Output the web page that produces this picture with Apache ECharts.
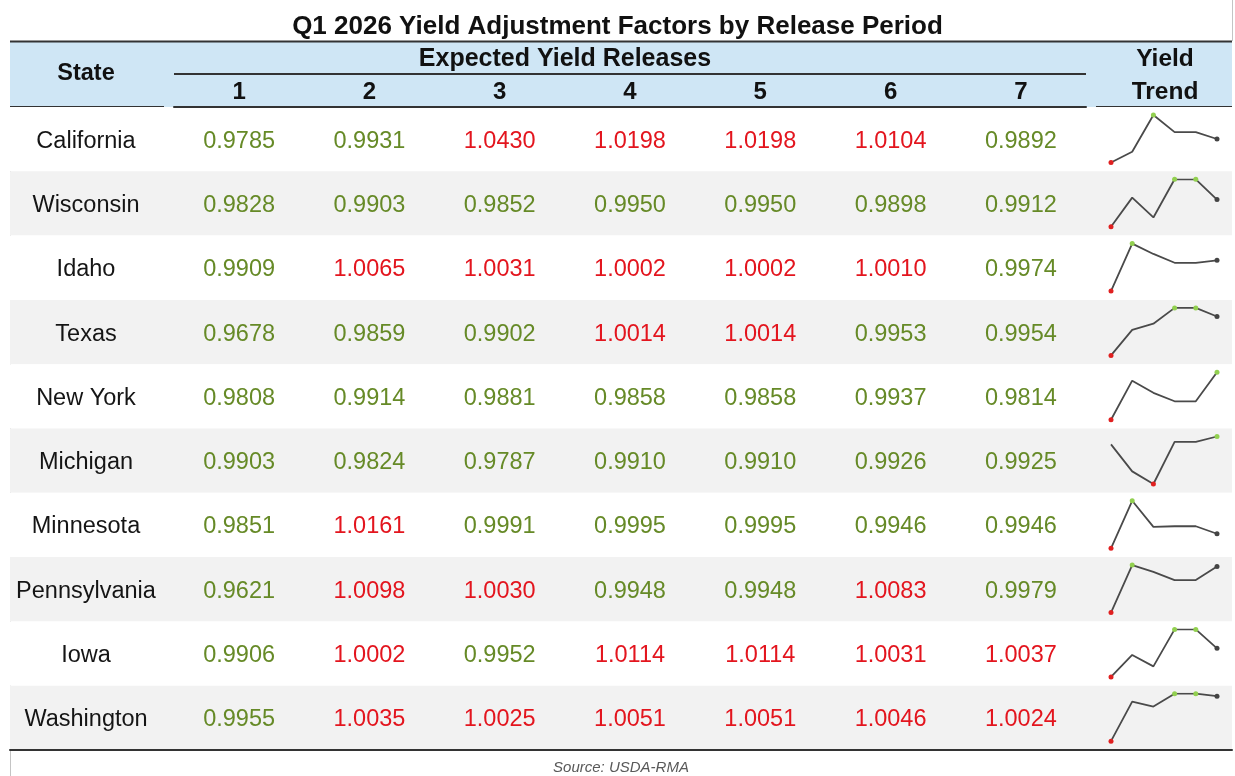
<!DOCTYPE html>
<html>
<head>
    <meta charset="utf-8">
    <title>Yield Adjustment Factors</title>
    <script src="https://cdn.jsdelivr.net/npm/echarts@6/dist/echarts.min.js"></script>
    <style>
        body { margin: 0; background: #fff; }
    </style>
</head>
<body>
    <div id="main" style="width: 1235px;height:776px;"></div>
    <script type="text/javascript">
        // table data
        var states = ['California', 'Wisconsin', 'Idaho', 'Texas', 'New York', 'Michigan',
                      'Minnesota', 'Pennsylvania', 'Iowa', 'Washington'];
        var releases = ['1', '2', '3', '4', '5', '6', '7'];
        var california   = [0.9785, 0.9931, 1.0430, 1.0198, 1.0198, 1.0104, 0.9892];
        var wisconsin    = [0.9828, 0.9903, 0.9852, 0.9950, 0.9950, 0.9898, 0.9912];
        var idaho        = [0.9909, 1.0065, 1.0031, 1.0002, 1.0002, 1.0010, 0.9974];
        var texas        = [0.9678, 0.9859, 0.9902, 1.0014, 1.0014, 0.9953, 0.9954];
        var newYork      = [0.9808, 0.9914, 0.9881, 0.9858, 0.9858, 0.9937, 0.9814];
        var michigan     = [0.9903, 0.9824, 0.9787, 0.9910, 0.9910, 0.9926, 0.9925];
        var minnesota    = [0.9851, 1.0161, 0.9991, 0.9995, 0.9995, 0.9946, 0.9946];
        var pennsylvania = [0.9621, 1.0098, 1.0030, 0.9948, 0.9948, 1.0083, 0.9979];
        var iowa         = [0.9906, 1.0002, 0.9952, 1.0114, 1.0114, 1.0031, 1.0037];
        var washington   = [0.9955, 1.0035, 1.0025, 1.0051, 1.0051, 1.0046, 1.0024];
        var rows = [california, wisconsin, idaho, texas, newYork, michigan,
                    minnesota, pennsylvania, iowa, washington];
        // the trend sparkline uses releases 1-6
        var trendCount = 6;

        var RED = '#e3151e', GREEN = '#668a27';
        var FONT = 'Liberation Sans, Arial';
        var TOP = 107, ROW_H = 64.3, BOTTOM = 750;
        var STATE_COL = (86 - 10) / 1222;   // state column centre on the background grid

        var myChart = echarts.init(document.getElementById('main'));

        // value cells
        var cells = [];
        rows.forEach(function (vals, r) {
            vals.forEach(function (v, c) {
                cells.push({
                    value: [c, r, v],
                    label: { color: v > 1 ? RED : GREEN }
                });
            });
        });

        var grids = [
            { left: 10, top: TOP, width: 1222, height: BOTTOM - TOP },
            { left: 174, top: TOP, width: 912, height: BOTTOM - TOP }
        ];
        var xAxes = [
            {
                gridIndex: 0, type: 'value', min: 0, max: 1,
                axisLine: { show: true, lineStyle: { color: '#333', width: 2 } },
                axisTick: { show: false }, axisLabel: { show: false }, splitLine: { show: false }
            },
            {
                gridIndex: 1, type: 'category', data: releases, position: 'top',
                axisLine: { show: true, lineStyle: { color: '#333', width: 2 } },
                axisTick: { show: false },
                axisLabel: { margin: 3, fontSize: 24, fontWeight: 'bold', color: '#111',
                             fontFamily: FONT }
            }
        ];
        var yAxes = [
            {
                gridIndex: 0, type: 'category', data: states, inverse: true,
                axisLine: { show: false }, axisTick: { show: false }, axisLabel: { show: false },
                splitArea: { show: true, areaStyle: { color: ['#ffffff', '#f2f2f2'] } }
            },
            {
                gridIndex: 1, type: 'category', data: states, inverse: true,
                axisLine: { show: false }, axisTick: { show: false }, axisLabel: { show: false }
            }
        ];
        var hidden = { color: 'rgba(0,0,0,0)', opacity: 1 };
        var series = [{
            type: 'scatter',
            xAxisIndex: 1, yAxisIndex: 1,
            symbolSize: 1,
            itemStyle: hidden,
            label: {
                show: true, position: 'inside', fontSize: 23.5, offset: [0, 2],
                fontFamily: FONT,
                formatter: function (p) { return p.value[2].toFixed(4); }
            },
            data: cells,
            silent: true
        }, {
            // state names
            type: 'scatter',
            xAxisIndex: 0, yAxisIndex: 0,
            symbolSize: 1,
            itemStyle: hidden,
            label: {
                show: true, position: 'inside', fontSize: 23.5, offset: [0, 2],
                fontFamily: FONT, color: '#151515',
                formatter: function (p) { return p.value[1]; }
            },
            data: states.map(function (s) { return [STATE_COL, s]; }),
            silent: true
        }];

        // sparklines, one small grid per state
        rows.forEach(function (vals, r) {
            var pts = vals.slice(0, trendCount);
            var hi = Math.max.apply(null, pts), lo = Math.min.apply(null, pts);
            var gi = grids.length;
            grids.push({ left: 1111, width: 106, top: TOP + r * ROW_H + 8, height: 47.5 });
            xAxes.push({ gridIndex: gi, type: 'category', data: releases.slice(0, trendCount),
                         boundaryGap: false, show: false });
            yAxes.push({ gridIndex: gi, type: 'value', min: 'dataMin', max: 'dataMax',
                         scale: true, show: false });
            series.push({
                type: 'line', xAxisIndex: gi, yAxisIndex: gi,
                lineStyle: { color: '#4a4a4a', width: 1.8 },
                symbol: 'circle', symbolSize: 5, showSymbol: true,
                animation: false,
                data: pts.map(function (v, i) {
                    var col = null;
                    if (v === hi) col = '#92d050';
                    else if (v === lo) col = '#e02020';
                    else if (i === pts.length - 1) col = '#444';
                    if (!col) return { value: v, symbol: 'none' };
                    return { value: v, itemStyle: { color: col, borderWidth: 0 } };
                })
            });
        });

        function hline(x1, x2, y, w, c) {
            return { type: 'line', shape: { x1: x1, y1: y, x2: x2, y2: y },
                     style: { stroke: c || '#333', lineWidth: w || 2 } };
        }
        function htext(x, y, t, size, extra) {
            var s = { text: t, x: x, y: y, align: 'center', verticalAlign: 'middle',
                      fontSize: size, fontWeight: 'bold', fill: '#111',
                      fontFamily: FONT };
            for (var k in extra) s[k] = extra[k];
            return { type: 'text', style: s };
        }

        var option = {
            backgroundColor: '#fff',
            animation: false,
            title: {
                text: 'Q1 2026 Yield Adjustment Factors by Release Period',
                left: 'center', top: 9,
                textStyle: { fontSize: 26, fontWeight: 'bold', color: '#111',
                             fontFamily: FONT }
            },
            grid: grids,
            xAxis: xAxes,
            yAxis: yAxes,
            series: series,
            graphic: [
                { type: 'rect', z: -10, shape: { x: 10, y: 41, width: 1222, height: 66 },
                  style: { fill: '#cfe6f5' } },
                hline(10, 1232, 41.5, 2),
                hline(174, 1086, 74, 2),
                hline(10, 164, 107, 2),
                hline(1096, 1232, 107, 2),
                { type: 'line', shape: { x1: 10.5, y1: 107, x2: 10.5, y2: 776 },
                  style: { stroke: '#c4c4c4', lineWidth: 1 } },
                { type: 'line', shape: { x1: 1232.5, y1: 0, x2: 1232.5, y2: 41 },
                  style: { stroke: '#c4c4c4', lineWidth: 1 } },
                htext(86, 74, 'State', 23.5),
                htext(565, 59, 'Expected Yield Releases', 25),
                htext(1165, 59, 'Yield', 24.5),
                htext(1165, 92, 'Trend', 24.5),
                htext(621, 768, 'Source: USDA-RMA', 15,
                      { fontWeight: 'normal', fontStyle: 'italic', fill: '#595959' })
            ]
        };
        myChart.setOption(option);
    </script>
</body>
</html>
